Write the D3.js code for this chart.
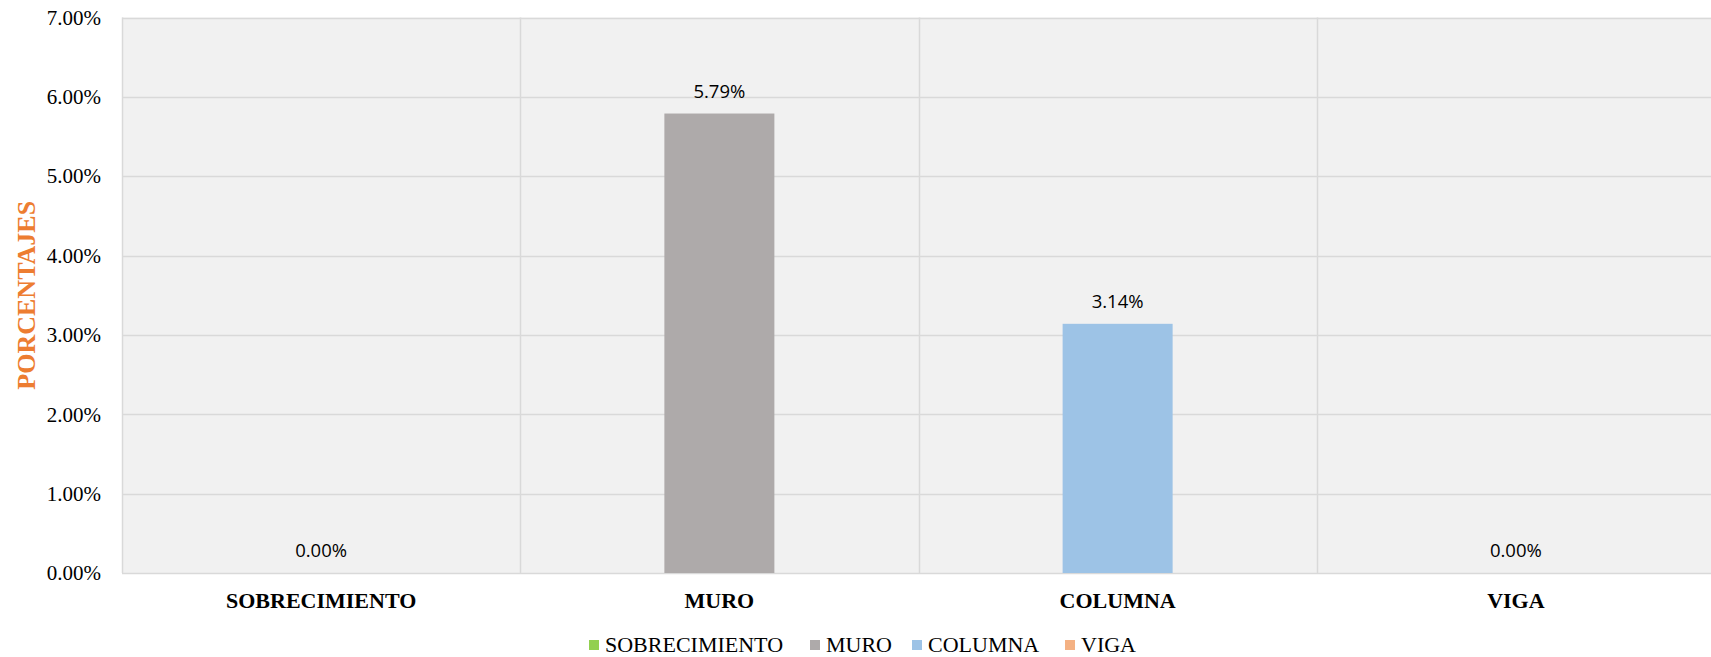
<!DOCTYPE html>
<html lang="es">
<head>
<meta charset="utf-8">
<title>Porcentajes</title>
<script src="https://cdn.jsdelivr.net/npm/d3@7/dist/d3.min.js"></script>
<style>
  body { margin: 0; background: #fff; }
  svg { display: block; }
</style>
</head>
<body>
<script>
// datos del grafico
var categorias = ["SOBRECIMIENTO", "MURO", "COLUMNA", "VIGA"];
var valores = [0.0000, 0.0579, 0.0314, 0.0000];
var colores = ["#92D050", "#AEAAAA", "#9DC3E6", "#F4B183"];
var ticksY = [0, 0.01, 0.02, 0.03, 0.04, 0.05, 0.06, 0.07];

var width = 1711, height = 657;
var margin = {top: 17.5, left: 122, bottom: 84, right: -4};

var svg = d3.select("body").append("svg")
            .attr("width", width)
            .attr("height", height);

var x = d3.scaleBand()
          .domain(categorias)
          .range([margin.left, width - margin.right])
          .padding(0);

var y = d3.scaleLinear()
          .domain([0, 0.07])
          .range([height - margin.bottom, margin.top]);

// fondo del area
svg.append("rect")
   .attr("x", margin.left)
   .attr("y", y(0.07))
   .attr("width", width - margin.left)
   .attr("height", y(0) - y(0.07))
   .attr("fill", "#F1F1F1");

// lineas horizontales
svg.append("g").selectAll("line")
   .data(ticksY)
   .enter().append("line")
   .attr("x1", margin.left)
   .attr("x2", width)
   .attr("y1", function(d){ return Math.round(y(d)) + 0.5; })
   .attr("y2", function(d){ return Math.round(y(d)) + 0.5; })
   .attr("stroke", "#D9D9D9")
   .attr("stroke-width", 1.5);

// lineas verticales entre categorias
var sep = [margin.left].concat(categorias.slice(1).map(function(c){ return x(c); }));
svg.append("g").selectAll("line")
   .data(sep)
   .enter().append("line")
   .attr("x1", function(d){ return Math.round(d) + 0.5; })
   .attr("x2", function(d){ return Math.round(d) + 0.5; })
   .attr("y1", y(0.07))
   .attr("y2", y(0))
   .attr("stroke", "#D9D9D9")
   .attr("stroke-width", 1.5);

// eje y
var ejeY = d3.axisLeft(y).tickValues(ticksY)
             .tickFormat(function(d){ return (d * 100).toFixed(2) + "%"; })
             .tickSize(0).tickPadding(0);
var gy = svg.append("g")
   .attr("transform", "translate(101,0)")
   .call(ejeY);
gy.select(".domain").remove();
gy.selectAll("text")
  .attr("font-family", "'Liberation Serif', 'Times New Roman', serif")
  .attr("font-size", 21)
  .attr("fill", "#000");

// eje x
var ejeX = d3.axisBottom(x).tickSize(0).tickPadding(0);
var gx = svg.append("g")
   .attr("transform", "translate(0," + (y(0) + 19) + ")")
   .call(ejeX);
gx.select(".domain").remove();
gx.selectAll("text")
  .attr("font-family", "'Liberation Serif', 'Times New Roman', serif")
  .attr("font-size", 22)
  .attr("font-weight", "bold")
  .attr("fill", "#000");

// barras
var anchoBarra = 110;
svg.append("g").selectAll("rect")
   .data(valores)
   .enter().append("rect")
   .attr("x", function(d, i){ return x(categorias[i]) + x.bandwidth() / 2 - anchoBarra / 2; })
   .attr("y", function(d){ return y(d); })
   .attr("width", anchoBarra)
   .attr("height", function(d){ return y(0) - y(d); })
   .attr("fill", function(d, i){ return colores[i]; });

// etiquetas de datos
svg.append("g").selectAll("text")
   .data(valores)
   .enter().append("text")
   .attr("x", function(d, i){ return x(categorias[i]) + x.bandwidth() / 2; })
   .attr("y", function(d){ return y(d) - 16; })
   .attr("text-anchor", "middle")
   .attr("font-family", "'Open Sans', sans-serif")
   .attr("font-size", 18.5)
   .attr("fill", "#000")
   .text(function(d){ return (d * 100).toFixed(2) + "%"; });

// titulo eje y
svg.append("text")
   .attr("transform", "translate(35," + ((y(0) + y(0.07)) / 2) + ") rotate(-90)")
   .attr("text-anchor", "middle")
   .attr("font-family", "'Liberation Serif', 'Times New Roman', serif")
   .attr("font-size", 26)
   .attr("font-weight", "bold")
   .attr("fill", "#ED7D31")
   .text("PORCENTAJES");

// leyenda
var leyX = [589, 810, 912, 1065];
var ley = svg.append("g").selectAll("g")
   .data(categorias)
   .enter().append("g")
   .attr("transform", function(d, i){ return "translate(" + leyX[i] + ",645)"; });
ley.append("rect")
   .attr("x", 0).attr("y", -5)
   .attr("width", 10).attr("height", 10)
   .attr("fill", function(d, i){ return colores[i]; });
ley.append("text")
   .attr("x", 16).attr("y", 7)
   .attr("font-family", "'Liberation Serif', 'Times New Roman', serif")
   .attr("font-size", 22)
   .attr("fill", "#000")
   .text(function(d){ return d; });
</script>
</body>
</html>
